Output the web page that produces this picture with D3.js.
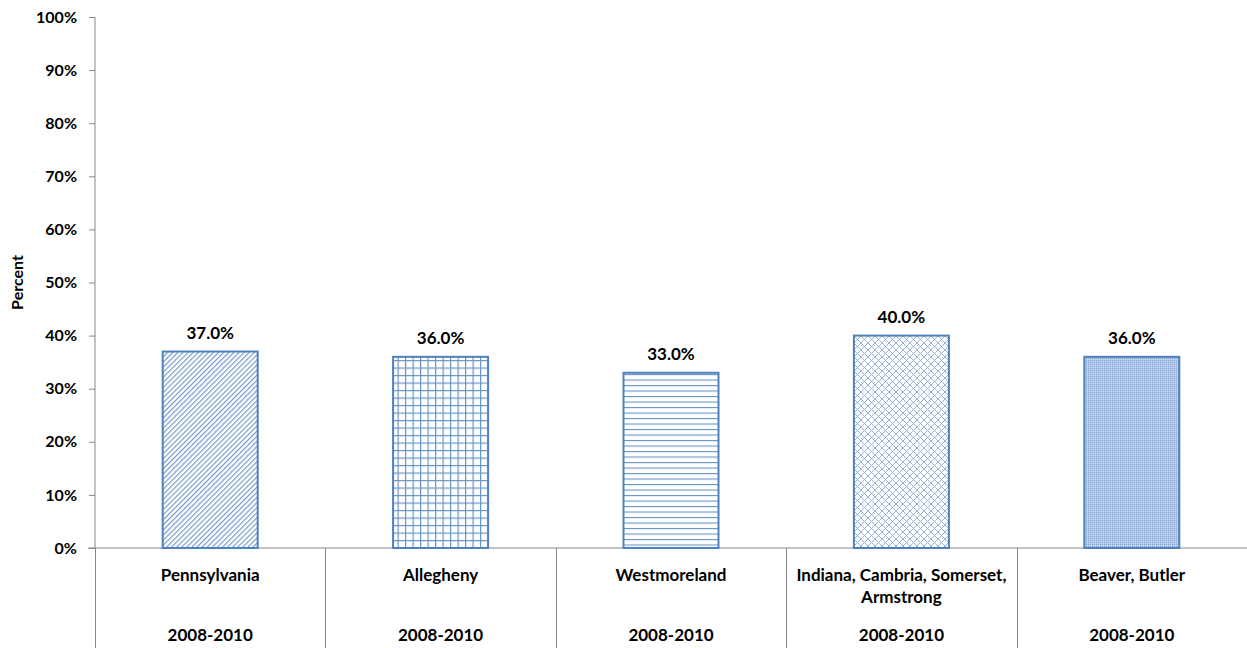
<!DOCTYPE html>
<html><head><meta charset="utf-8">
<script src="https://cdn.jsdelivr.net/npm/d3@7/dist/d3.min.js"></script>
<style>body{margin:0;background:#fff}svg{display:block}text{font-family:Lato,"Open Sans",sans-serif;font-weight:bold;fill:#000}</style>
</head><body>
<svg id="c" width="1247" height="648"></svg>
<script>
const categories = ["Pennsylvania","Allegheny","Westmoreland","Indiana, Cambria, Somerset,|Armstrong","Beaver, Butler"];
const periods = ["2008-2010","2008-2010","2008-2010","2008-2010","2008-2010"];
const values = [37.0,36.0,33.0,40.0,36.0];
const patterns = ["diag","grid","horiz","lattice","dots"];
const yTicks = [0,10,20,30,40,50,60,70,80,90,100];

(function(){
const svg = d3.select("#c");
const pLeft = 95, pRight = 1247, pTop = 17, pBottom = 548;
const x = d3.scaleBand().domain(d3.range(categories.length)).range([pLeft,pRight]).paddingInner(0).paddingOuter(0);
const y = d3.scaleLinear().domain([0,100]).range([pBottom,pTop]);
const blue = "#4F81BD";

const defs = svg.append("defs");
function pat(id,w,h,draw){const p=defs.append("pattern").attr("id",id).attr("patternUnits","userSpaceOnUse").attr("width",w).attr("height",h);p.append("rect").attr("width",w).attr("height",h).attr("fill","#fff");draw(p);return p;}
pat("diag",3.6,10,p=>{p.attr("patternTransform","rotate(45)");p.append("rect").attr("x",0).attr("y",0).attr("width",1.1).attr("height",10).attr("fill","#6F96CB");});
pat("grid",7.5,7.5,p=>{p.append("path").attr("d","M0,0.5 H7.5 M0.5,0 V7.5").attr("stroke",blue).attr("stroke-width",1.4).attr("opacity",0.85);});
pat("horiz",5.5,5.5,p=>{p.append("path").attr("d","M0,0.5 H5.5").attr("stroke",blue).attr("stroke-width",1.2).attr("opacity",0.85);});
pat("lattice",7,7,p=>{p.append("path").attr("d","M0,0 L7,7 M7,0 L0,7").attr("stroke","#8AAAD6").attr("stroke-width",0.9);});
pat("dots",2,2,p=>{p.select("rect").attr("fill","#B4C8E4");p.append("rect").attr("width",1).attr("height",1).attr("fill","#89A7D3");p.append("rect").attr("x",1).attr("y",1).attr("width",1).attr("height",1).attr("fill","#C9D8EE");});

const yAxis = d3.axisLeft(y).tickValues(yTicks).tickFormat(d=>d+"%").tickSize(6).tickPadding(12);
const ga = svg.append("g").attr("transform",`translate(${pLeft},0)`).call(yAxis);
ga.select(".domain").attr("stroke","#868686").attr("d",`M0,${pTop}V${pBottom}`);
ga.selectAll(".tick line").attr("stroke","#868686");
ga.selectAll(".tick text").style("font-size","16px").style("font-family","Lato,sans-serif").style("font-weight","bold").attr("fill","#000");

svg.append("text").attr("transform",`translate(23,${(pTop+pBottom)/2}) rotate(-90)`).attr("text-anchor","middle").style("font-size","16px").text("Percent");

svg.append("line").attr("x1",pLeft-7).attr("x2",pRight).attr("y1",pBottom).attr("y2",pBottom).attr("stroke","#868686");
svg.selectAll("line.div").data(d3.range(categories.length)).join("line").attr("class","div")
  .attr("x1",i=>Math.round(x(i))+0.5).attr("x2",i=>Math.round(x(i))+0.5).attr("y1",pBottom).attr("y2",648).attr("stroke","#868686");

const bw = 95;
svg.selectAll("rect.bar").data(values).join("rect").attr("class","bar")
  .attr("x",(d,i)=>x(i)+x.bandwidth()/2-bw/2).attr("width",bw)
  .attr("y",d=>y(d)).attr("height",d=>pBottom-y(d))
  .attr("fill",(d,i)=>`url(#${patterns[i]})`).attr("stroke",blue).attr("stroke-width",2);

svg.selectAll("text.val").data(values).join("text").attr("class","val")
  .attr("x",(d,i)=>x(i)+x.bandwidth()/2).attr("y",d=>y(d)-13)
  .attr("text-anchor","middle").style("font-size","17px").text(d=>d.toFixed(1)+"%");

categories.forEach((c,i)=>{
  const lines=c.split("|");
  const cx=x(i)+x.bandwidth()/2;
  const t=svg.append("text").attr("x",cx).attr("y",581).attr("text-anchor","middle").style("font-size","17px");
  lines.forEach((l,j)=>t.append("tspan").attr("x",cx).attr("dy",j?22:0).text(l));
  svg.append("text").attr("x",cx).attr("y",641).attr("text-anchor","middle").style("font-size","17px").text(periods[i]);
});
})();
</script>
</body></html>
